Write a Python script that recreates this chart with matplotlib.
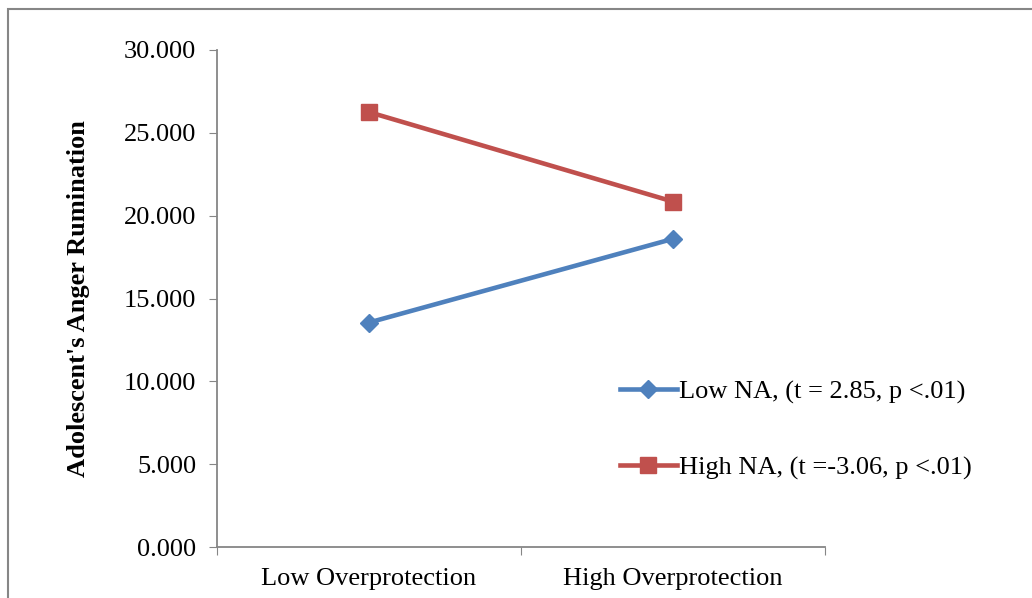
import matplotlib.pyplot as plt
from matplotlib.patches import Rectangle

categories = ['Low Overprotection', 'High Overprotection']
low_na = [13.55, 18.6]
high_na = [26.25, 20.85]
series_labels = ['Low NA, (t = 2.85, p <.01)', 'High NA, (t =-3.06, p <.01)']
y_ticks = [0, 5, 10, 15, 20, 25, 30]

plt.rcParams['font.family'] = ['Liberation Serif', 'DejaVu Serif']

fig = plt.figure(figsize=(10.32, 5.98), dpi=100)
ax = fig.add_axes([217 / 1032, 51 / 598, 608 / 1032, 497 / 598])

# outer chart frame (Excel style)
fig.patches.append(Rectangle((8 / 1032, -0.05), 1.1, (598 - 9) / 598 + 0.05,
                             transform=fig.transFigure, fill=False,
                             edgecolor='#868686', linewidth=1.5))

x = [0.5, 1.5]
ax.plot(x, low_na, color='#4F81BD', linewidth=3.3, marker='D', markersize=9,
        label=series_labels[0])
ax.plot(x, high_na, color='#C0504D', linewidth=3.3, marker='s', markersize=11,
        label=series_labels[1])

ax.set_xlim(0, 2)
ax.set_ylim(0, 30)
ax.set_yticks(y_ticks)
ax.set_yticklabels([f'{v:.3f}' for v in y_ticks])
ax.set_xticks([0, 1, 2])
ax.set_xticklabels([])
ax.set_xticks(x, minor=True)
ax.set_xticklabels(categories, minor=True)
ax.tick_params(axis='x', which='minor', length=0, pad=15, labelsize=19)
ax.tick_params(axis='x', which='major', length=6, color='#868686', direction='out')
ax.tick_params(axis='y', length=6, color='#868686', direction='out', labelsize=19, pad=9)

for s in ['top', 'right']:
    ax.spines[s].set_visible(False)
for s in ['left', 'bottom']:
    ax.spines[s].set_color('#868686')
    ax.spines[s].set_linewidth(1.3)

ax.set_ylabel("Adolescent's Anger Rumination", fontsize=19, fontweight='bold', labelpad=24)

fig.legend(loc='center left', bbox_to_anchor=(620 / 1032, (598 - 430) / 598),
           frameon=False, fontsize=19, labelspacing=1.97, handlelength=2.15,
           handletextpad=0.1, borderpad=0, borderaxespad=0)

fig.savefig('out.png', dpi=100)
